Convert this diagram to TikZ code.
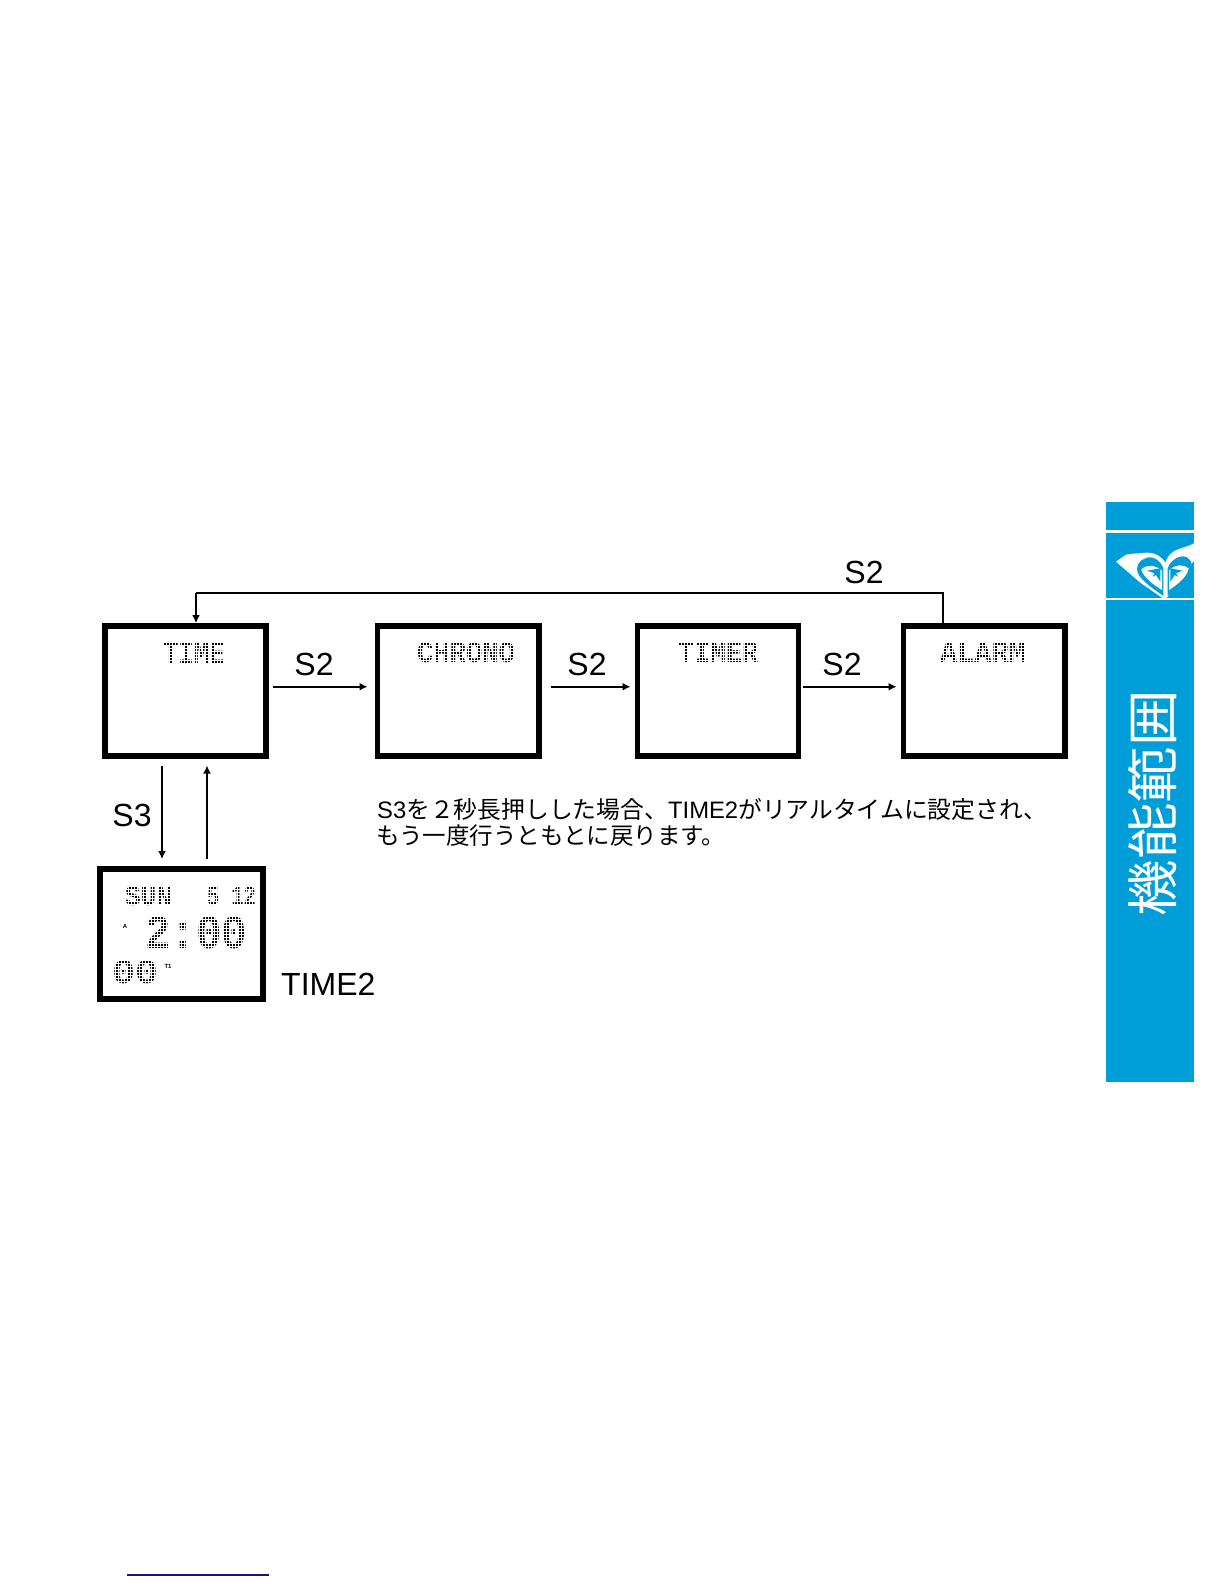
\documentclass[tikz,border=0pt]{standalone}
\usepackage{fontspec}
\usepackage{graphicx}
\setmainfont{Liberation Sans}
\newfontfamily\jpf{Noto Sans CJK JP}
\newfontfamily\lcdf{Liberation Mono}
\definecolor{barblue}{RGB}{0,158,217}
\definecolor{navyline}{RGB}{20,20,130}
\newcommand{\lcdtext}[6]{%
  \node[lcdlabel] (#1) at (#2,#3) {\resizebox{#4pt}{#5pt}{\lcdf\bfseries #6}};
  \begin{scope}
    \clip (#2-1,#3-1) rectangle (#2+#4+1,#3+#5+1);
    \pgfmathsetmacro{\xend}{#2+#4+1}\pgfmathsetmacro{\yend}{#3+#5+1}
    \pgfmathsetmacro{\xnext}{#2+3}\pgfmathsetmacro{\ynext}{#3+3}
    \foreach \gx in {#2,\xnext,...,\xend} \draw[lcdgap] (\gx,#3-1) -- (\gx,#3+#5+1);
    \foreach \gy in {#3,\ynext,...,\yend} \draw[lcdgap] (#2-1,\gy) -- (#2+#4+1,\gy);
  \end{scope}}
\tikzset{
  lcdbox/.style={draw=black,line width=5.5pt,fill=white,minimum width=#1,anchor=north west,inner sep=0pt},
  lcdlabel/.style={anchor=north west,inner sep=0pt,outer sep=0pt},
  lcdgap/.style={white,line width=0.9pt},
  keylabel/.style={font=\fontsize{32}{36}\selectfont,inner sep=0pt},
  note/.style={font=\fontsize{23.8}{26}\selectfont,anchor=west,inner sep=0pt},
  arr/.style={line width=1.6pt,-{Latex[length=8pt,width=8pt]}},
  barmark/.style={white,line width=2.4pt},
}
\usetikzlibrary{arrows.meta}
\begin{document}
\begin{tikzpicture}[x=1pt,y=-1pt]
\useasboundingbox (0,0) rectangle (1224,1584);
% side bar
\fill[barblue] (1106,502) rectangle (1194,1082);
\draw[barmark] (1106,531.5) -- (1194,531.5);
\draw[barmark] (1106,599) -- (1194,599);
\node[rotate=90,text=white,inner sep=0pt] (bartitle) at (1153,803)
  {\resizebox{226pt}{44pt}{\jpf 機能範囲}};
% logo, in 3x crop coordinates
\begin{scope}[shift={(1112,540)},x=0.3333pt,y=-0.3333pt]
  \fill[white] (246,10) .. controls (225,22) and (195,25) .. (180,38)
     .. controls (170,45) and (163,58) .. (160,68)
     .. controls (150,50) and (130,38) .. (105,38)
     .. controls (85,40) and (60,40) .. (42,44)
     -- (12,65) -- (85,128) -- (160,180) -- (246,62) -- cycle;
  \fill[barblue] (154,85) .. controls (145,60) and (120,45) .. (100,55)
     .. controls (80,62) and (70,80) .. (78,100)
     .. controls (90,125) and (130,150) .. (154,168) -- cycle;
  \fill[barblue] (167,85) .. controls (175,60) and (205,42) .. (225,52)
     .. controls (242,62) and (245,85) .. (235,105)
     .. controls (220,130) and (190,150) .. (167,168) -- cycle;
  \fill[white] (150,92) .. controls (130,75) and (105,72) .. (88,88)
     .. controls (92,110) and (125,135) .. (150,150) -- cycle;
  \fill[white] (171,92) .. controls (190,72) and (215,72) .. (230,85)
     .. controls (226,110) and (195,135) .. (171,150) -- cycle;
  \fill[barblue] (105,92) -- (145,85) -- (145,125) -- (132,105) -- (122,110) -- (128,100) -- cycle;
  \fill[barblue] (212,92) -- (175,85) -- (175,125) -- (188,105) -- (198,110) -- (192,100) -- cycle;
\end{scope}
% screens
\node[lcdbox=161pt,minimum height=130pt] (time)   at (102,623) {};
\node[lcdbox=161.5pt,minimum height=130pt] (chrono) at (374.5,623) {};
\node[lcdbox=161pt,minimum height=130pt] (timer)  at (634.5,623) {};
\node[lcdbox=161.5pt,minimum height=130pt] (alarm)  at (900.5,623) {};
\node[lcdbox=163pt,minimum height=130pt] (time2)  at (97,866) {};
% LCD texts
\lcdtext{ltime}{163}{642}{62}{21}{TIME}
\lcdtext{lchrono}{417}{642}{98}{20}{CHRONO}
\lcdtext{ltimer}{678}{642}{80}{20}{TIMER}
\lcdtext{lalarm}{940}{642}{86}{20}{ALARM}
\lcdtext{lsun}{125}{886}{47}{19}{SUN}
\lcdtext{ldate}{207}{886}{49}{19}{5 12}
\lcdtext{lclock}{145}{916}{102}{32}{2:00}
\lcdtext{lsec}{112}{960}{46}{23}{00}
\node[font=\bfseries\fontsize{6}{7}\selectfont,inner sep=0pt] (lam) at (125,926) {A};
\node[font=\bfseries\fontsize{6}{7}\selectfont,inner sep=0pt] (lt1) at (168,966) {T1};
% connectors
\draw[arr,shorten <=4pt,shorten >=7pt] ([yshift=4pt]time.east) -- ([yshift=4pt]chrono.west);
\draw[arr,shorten <=9pt,shorten >=4pt] ([yshift=4pt]chrono.east) -- ([yshift=4pt]timer.west);
\draw[arr,shorten <=2pt,shorten >=4pt] ([yshift=4pt]timer.east) -- ([yshift=4pt]alarm.west);
\coordinate (topright) at (943,593);
\coordinate (topleft) at (196,593);
\draw[line width=1.6pt] (alarm.north -| topright) -- (topright) -- (topleft);
\draw[arr] (topleft) -- (topleft |- time.north);
\coordinate (downx) at (162,0);
\coordinate (upx) at (207,0);
\draw[arr,shorten <=7pt,shorten >=7pt] (time.south -| downx) -- (time2.north -| downx);
\draw[arr,shorten <=7pt,shorten >=7pt] (time2.north -| upx) -- (time.south -| upx);
% labels
\node[keylabel] (s2a) at (314,664) {S2};
\node[keylabel] (s2b) at (587,664) {S2};
\node[keylabel] (s2c) at (842,664) {S2};
\node[keylabel] (s2d) at (864,572) {S2};
\node[keylabel] (s3) at (132,815) {S3};
\node[keylabel,anchor=west] (t2) at (281,984) {TIME2};
\node[note] (n1) at (377,809) {S3{\jpf を２秒長押しした場合、}TIME2{\jpf がリアルタイムに設定され、}};
\node[note,font=\fontsize{23.5}{26}\selectfont] (n2) at (376,836) {\jpf もう一度行うともとに戻ります。};
% bottom rule
\draw[navyline,line width=1.3pt] (127,1575) -- (269,1575);
\end{tikzpicture}
\end{document}
